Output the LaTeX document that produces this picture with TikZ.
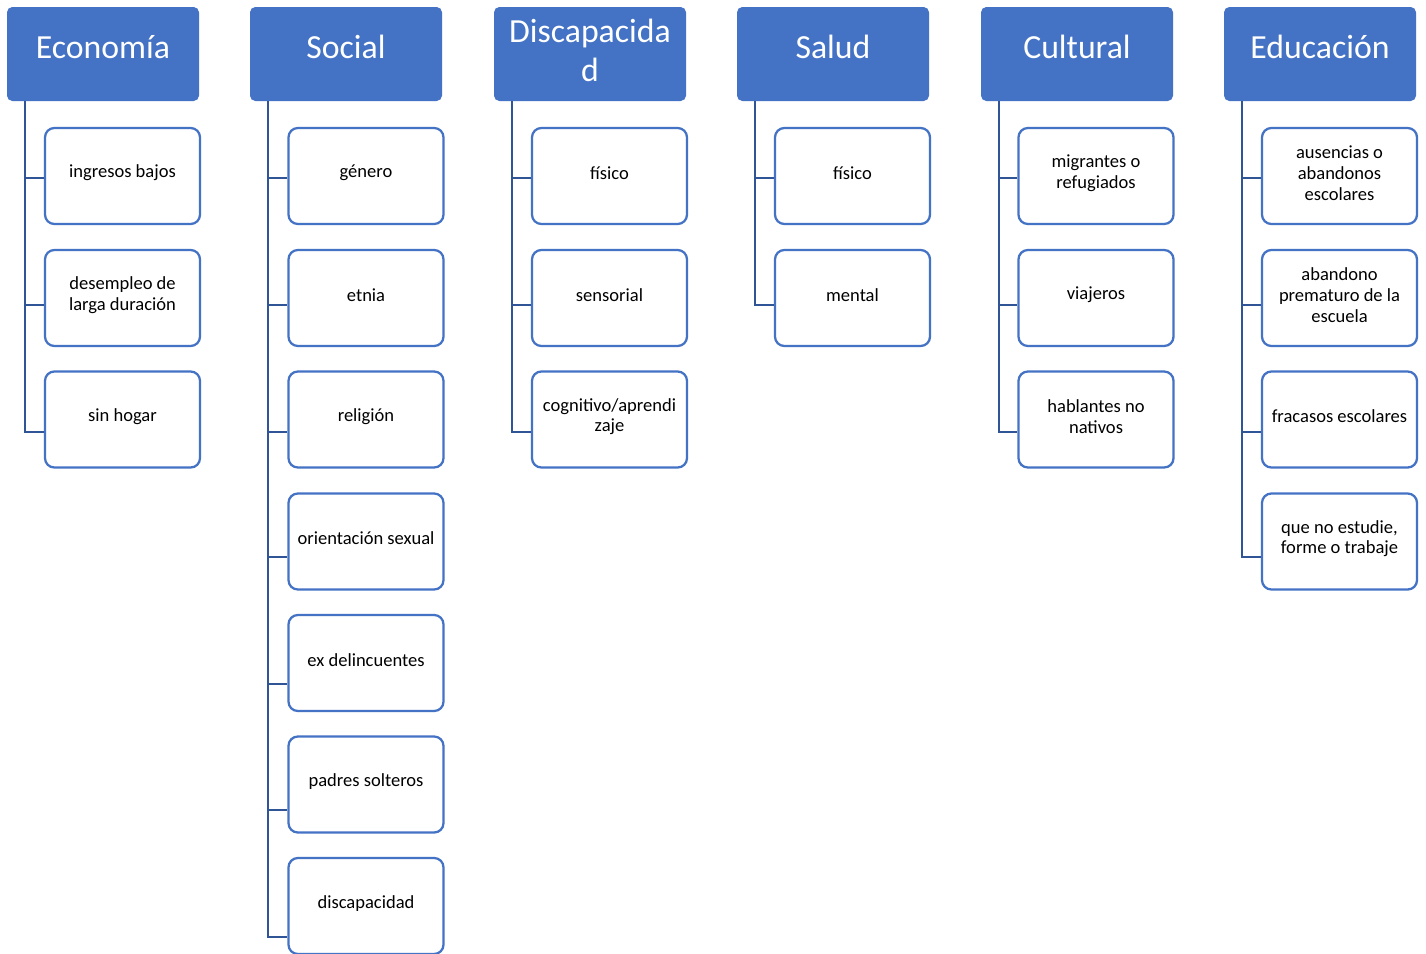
\documentclass[tikz,border=0pt]{standalone}
\usepackage{fontspec}
\setmainfont{Carlito}
\definecolor{hblue}{HTML}{4472C4}
\definecolor{lblue}{HTML}{2F5597}
\begin{document}
\begin{tikzpicture}[x=0.75pt,y=-0.75pt,
 hdr/.style={fill=hblue, rounded corners=4pt, minimum width=144pt, minimum height=70.5pt, inner sep=0pt},
 htext/.style={text=white, inner sep=0pt, align=center, yshift=5.5pt, font=\fontsize{25.3}{29.25}\selectfont},
 item/.style={draw=hblue, fill=white, line width=1.7pt, rounded corners=7pt, minimum width=116.25pt, minimum height=72pt, inner sep=0pt},
 itext/.style={inner sep=0pt, align=center, yshift=2.2pt, font=\fontsize{13.9}{15.6}\selectfont},
 conn/.style={draw=lblue, line width=2.2pt}]
\useasboundingbox (0,0) rectangle (1426,953);
\fill[white] (0,0) rectangle (1426,953);

% headers
\node[hdr, label={[htext]center:Economía}] (h1) at (103,54) {};
\node[hdr, label={[htext]center:Social}] (h2) at (346,54) {};
\node[hdr, label={[htext,yshift=-3pt]center:Discapacida\\d}] (h3) at (590,54) {};
\node[hdr, label={[htext]center:Salud}] (h4) at (833,54) {};
\node[hdr, label={[htext]center:Cultural}] (h5) at (1077,54) {};
\node[hdr, label={[htext]center:Educación}] (h6) at (1320,54) {};

% spine tops
\coordinate (s1) at (25,101);
\coordinate (s2) at (268,101);
\coordinate (s3) at (512,101);
\coordinate (s4) at (755,101);
\coordinate (s5) at (999,101);
\coordinate (s6) at (1242,101);

% children Economía
\node[item, label={[itext]center:ingresos bajos}] (c11) at (122.5,176) {};
\node[item, label={[itext]center:desempleo de\\larga duración}] (c12) at (122.5,298) {};
\node[item, label={[itext]center:sin hogar}] (c13) at (122.5,419.5) {};
% Social
\node[item, label={[itext]center:género}] (c21) at (366,176) {};
\node[item, label={[itext]center:etnia}] (c22) at (366,298) {};
\node[item, label={[itext]center:religión}] (c23) at (366,419.5) {};
\node[item, label={[itext]center:orientación sexual}] (c24) at (366,541.5) {};
\node[item, label={[itext]center:ex delincuentes}] (c25) at (366,663) {};
\node[item, label={[itext]center:padres solteros}] (c26) at (366,784.5) {};
\node[item, label={[itext]center:discapacidad}] (c27) at (366,906) {};
% Discapacidad
\node[item, label={[itext]center:físico}] (c31) at (609.5,176) {};
\node[item, label={[itext]center:sensorial}] (c32) at (609.5,298) {};
\node[item, label={[itext]center:cognitivo/aprendi\\zaje}] (c33) at (609.5,419.5) {};
% Salud
\node[item, label={[itext]center:físico}] (c41) at (852.5,176) {};
\node[item, label={[itext]center:mental}] (c42) at (852.5,298) {};
% Cultural
\node[item, label={[itext]center:migrantes o\\refugiados}] (c51) at (1096,176) {};
\node[item, label={[itext]center:viajeros}] (c52) at (1096,298) {};
\node[item, label={[itext]center:hablantes no\\nativos}] (c53) at (1096,419.5) {};
% Educación
\node[item, label={[itext]center:ausencias o\\abandonos\\escolares}] (c61) at (1339.5,176) {};
\node[item, label={[itext]center:abandono\\prematuro de la\\escuela}] (c62) at (1339.5,298) {};
\node[item, label={[itext]center:fracasos escolares}] (c63) at (1339.5,419.5) {};
\node[item, label={[itext]center:que no estudie,\\forme o trabaje}] (c64) at (1339.5,541.5) {};

% connectors
\draw[conn] (s1) |- (c13.west |- 0,432);
\draw[conn] (s1 |- 0,178) -- (c11.west |- 0,178);
\draw[conn] (s1 |- 0,305) -- (c12.west |- 0,305);

\draw[conn] (s2) |- (c27.west |- 0,937);
\draw[conn] (s2 |- 0,178) -- (c21.west |- 0,178);
\draw[conn] (s2 |- 0,305) -- (c22.west |- 0,305);
\draw[conn] (s2 |- 0,432) -- (c23.west |- 0,432);
\draw[conn] (s2 |- 0,557) -- (c24.west |- 0,557);
\draw[conn] (s2 |- 0,684) -- (c25.west |- 0,684);
\draw[conn] (s2 |- 0,810) -- (c26.west |- 0,810);

\draw[conn] (s3) |- (c33.west |- 0,432);
\draw[conn] (s3 |- 0,178) -- (c31.west |- 0,178);
\draw[conn] (s3 |- 0,305) -- (c32.west |- 0,305);

\draw[conn] (s4) |- (c42.west |- 0,305);
\draw[conn] (s4 |- 0,178) -- (c41.west |- 0,178);

\draw[conn] (s5) |- (c53.west |- 0,432);
\draw[conn] (s5 |- 0,178) -- (c51.west |- 0,178);
\draw[conn] (s5 |- 0,305) -- (c52.west |- 0,305);

\draw[conn] (s6) |- (c64.west |- 0,557);
\draw[conn] (s6 |- 0,178) -- (c61.west |- 0,178);
\draw[conn] (s6 |- 0,305) -- (c62.west |- 0,305);
\draw[conn] (s6 |- 0,432) -- (c63.west |- 0,432);
\end{tikzpicture}
\end{document}
